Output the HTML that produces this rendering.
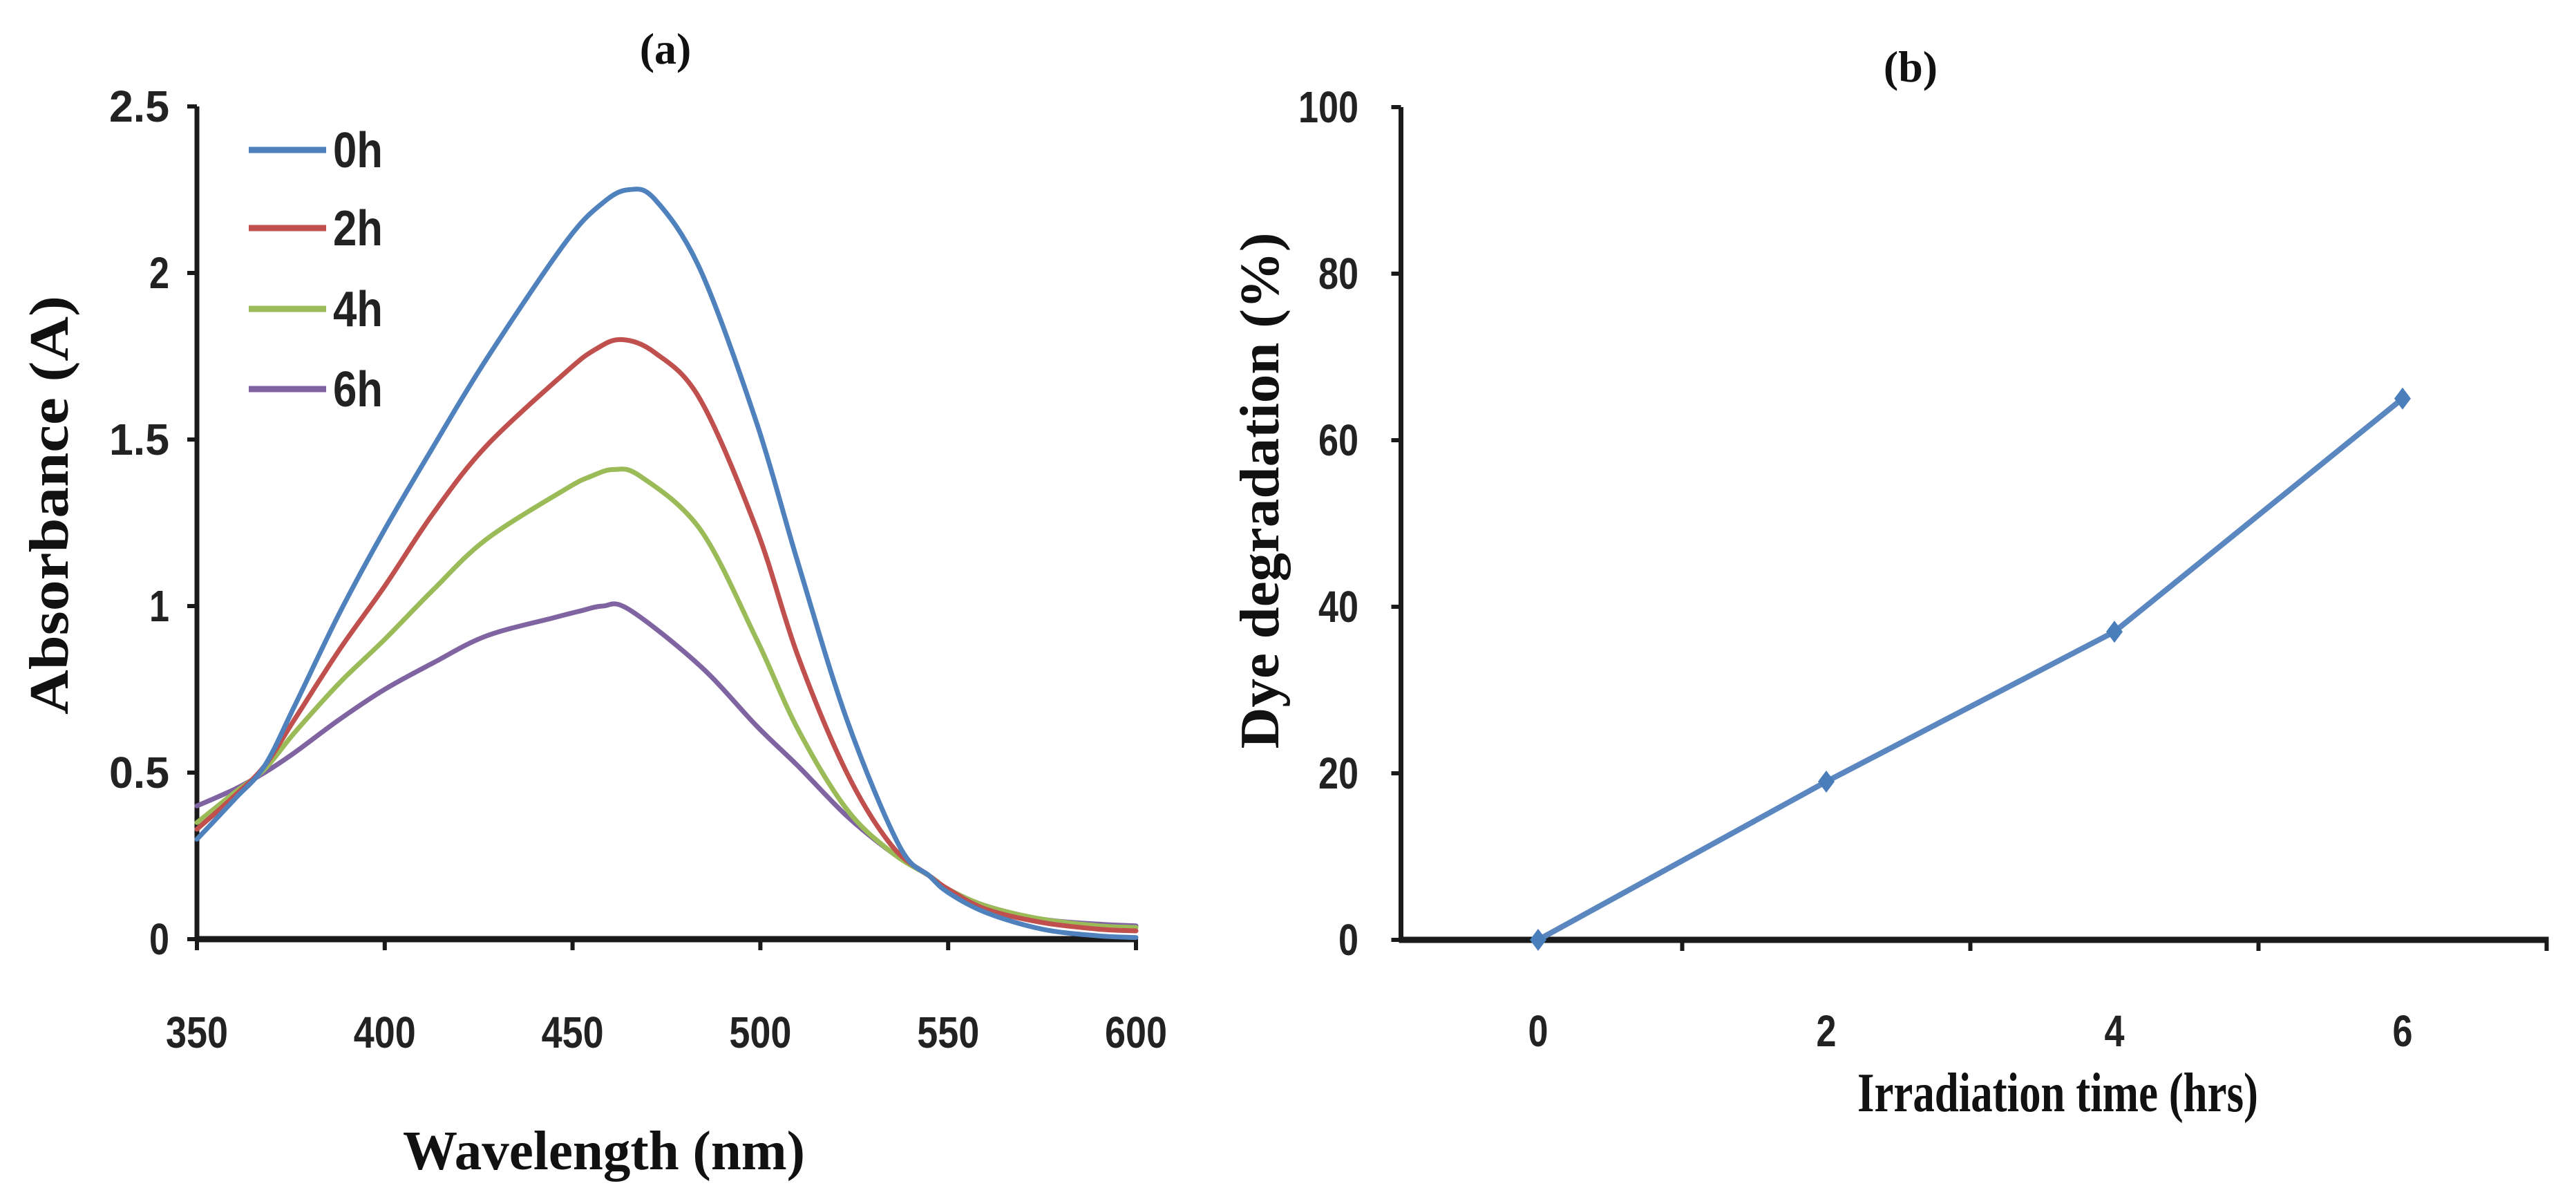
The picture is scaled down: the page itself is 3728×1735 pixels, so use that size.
<!DOCTYPE html>
<html><head><meta charset="utf-8"><style>
html,body{margin:0;padding:0;background:#fff;}
svg{display:block;}
</style></head><body>
<svg id="fig" width="3728" height="1735" viewBox="0 0 3728 1735" xmlns="http://www.w3.org/2000/svg">
<rect width="3728" height="1735" fill="#fff"/>
<g id="pa"></g>
<g id="pb"></g>
</svg>
<script>
// ---- Panel (a) data ----
const aXTicks = [350,400,450,500,550,600];
const aYTicks = [0,0.5,1,1.5,2,2.5];
const aYTickLabels = ["0","0.5","1","1.5","2","2.5"];
const seriesNames = ["0h","2h","4h","6h"];
const wl0 = [350,360,368,376,388,400,413,427,448,458,465,472,484,499,510,523,537,545,550,560,575,590,600];
const abs0 = [0.30,0.42,0.52,0.70,0.98,1.23,1.48,1.74,2.09,2.21,2.25,2.22,2.01,1.55,1.13,0.66,0.28,0.19,0.14,0.08,0.03,0.01,0.005];
const wl2 = [350,360,368,376,388,400,413,427,448,456,463,472,484,499,510,523,535,545,550,560,575,590,600];
const abs2 = [0.33,0.43,0.52,0.66,0.87,1.06,1.28,1.48,1.70,1.77,1.80,1.76,1.62,1.23,0.85,0.50,0.28,0.19,0.15,0.09,0.05,0.03,0.025];
const wl4 = [350,360,368,376,388,400,413,427,448,455,461,468,484,499,510,523,535,545,550,560,575,590,600];
const abs4 = [0.35,0.44,0.51,0.62,0.77,0.90,1.05,1.20,1.35,1.39,1.41,1.39,1.23,0.90,0.63,0.39,0.26,0.19,0.15,0.10,0.06,0.04,0.035];
const wl6 = [350,360,368,376,388,400,413,427,445,452,458,465,484,499,510,523,535,545,550,560,575,590,600];
const abs6 = [0.40,0.45,0.50,0.56,0.66,0.75,0.83,0.91,0.965,0.985,1.00,0.99,0.82,0.64,0.52,0.37,0.26,0.19,0.15,0.10,0.06,0.045,0.04];
// ---- Panel (b) data ----
const bTimes = [0,2,4,6];
const bDeg = [0,19,37,65];
const bXTickLabels = ["0","2","4","6"];
const bYTicks = [0,20,40,60,80,100];

const NS="http://www.w3.org/2000/svg";
function mk(parent,tag,attrs){const e=document.createElementNS(NS,tag);for(const k in attrs)e.setAttribute(k,attrs[k]);parent.appendChild(e);return e;}
function smooth(pts){let d="M"+pts[0][0].toFixed(1)+","+pts[0][1].toFixed(1);
 for(let i=0;i<pts.length-1;i++){const p0=pts[Math.max(0,i-1)],p1=pts[i],p2=pts[i+1],p3=pts[Math.min(pts.length-1,i+2)];
 const c1=[p1[0]+(p2[0]-p0[0])/6,p1[1]+(p2[1]-p0[1])/6],c2=[p2[0]-(p3[0]-p1[0])/6,p2[1]-(p3[1]-p1[1])/6];
 d+=" C"+c1[0].toFixed(1)+","+c1[1].toFixed(1)+" "+c2[0].toFixed(1)+","+c2[1].toFixed(1)+" "+p2[0].toFixed(1)+","+p2[1].toFixed(1);}
 return d;}

const narrow='"Liberation Sans Narrow","Liberation Sans",sans-serif';
const serif='"Liberation Serif",serif';
function lenFor(s){return s.length*29;} // condensed digits ~29px per char

// ---------- Panel A ----------
const A=document.getElementById('pa');
const ax=v=>285+(v-350)*(1644-285)/250;
const ay=v=>1359-v*482;
let e;
e=mk(A,'line',{x1:ax(350),y1:ay(2.5),x2:ax(350),y2:ay(0)+3,stroke:'#1a1a1a','stroke-width':7});

e=mk(A,'line',{x1:ax(350)-3,y1:ay(0),x2:ax(600)+3,y2:ay(0),stroke:'#1a1a1a','stroke-width':9});

aYTicks.forEach((t,i)=>{
 mk(A,'line',{x1:ax(350)-14,y1:ay(t),x2:ax(350),y2:ay(t),stroke:'#1a1a1a','stroke-width':6});
 const tx=mk(A,'text',{x:ax(350)-40,y:ay(t)+22,'text-anchor':'end','font-family':narrow,'font-weight':'bold','font-size':64,fill:'#222',textLength:lenFor(aYTickLabels[i]),lengthAdjust:'spacingAndGlyphs'});
 tx.textContent=aYTickLabels[i];
 
});
aXTicks.forEach(t=>{
 mk(A,'line',{x1:ax(t),y1:ay(0),x2:ax(t),y2:ay(0)+16,stroke:'#1a1a1a','stroke-width':6});
 const tx=mk(A,'text',{x:ax(t),y:1516,'text-anchor':'middle','font-family':narrow,'font-weight':'bold','font-size':64,fill:'#222',textLength:90,lengthAdjust:'spacingAndGlyphs'});
 tx.textContent=String(t);
 
});
const colors=['#4f81bd','#c0504d','#9bbb59','#8064a2'];
const wls=[wl0,wl2,wl4,wl6], abss=[abs0,abs2,abs4,abs6];
for(let s=3;s>=0;s--){
 const pts=wls[s].map((w,i)=>[ax(w),ay(abss[s][i])]);
 const p=mk(A,'path',{d:smooth(pts),fill:'none',stroke:colors[s],'stroke-width':7,'stroke-linejoin':'round','stroke-linecap':'round'});
 
}
const legY=[217,330,447,563];
seriesNames.forEach((n,i)=>{
 const g=mk(A,'g',{});
 
 mk(g,'line',{x1:360,y1:legY[i],x2:472,y2:legY[i],stroke:colors[i],'stroke-width':9});
 const t=mk(g,'text',{x:482,y:legY[i]+25,'font-family':narrow,'font-weight':'bold','font-size':72,fill:'#222',textLength:72,lengthAdjust:'spacingAndGlyphs'});
 t.textContent=n;
});
e=mk(A,'text',{x:963,y:92,'text-anchor':'middle','font-family':serif,'font-weight':'bold','font-size':64,fill:'#111'});
e.textContent='(a)';
e=mk(A,'text',{x:874,y:1692,'text-anchor':'middle','font-family':serif,'font-weight':'bold','font-size':80,fill:'#111',textLength:582,lengthAdjust:'spacingAndGlyphs'});
e.textContent='Wavelength (nm)';
e=mk(A,'text',{x:0,y:0,'text-anchor':'middle','font-family':serif,'font-weight':'bold','font-size':80,fill:'#111',textLength:606,lengthAdjust:'spacingAndGlyphs',transform:'translate(98,731) rotate(-90)'});
e.textContent='Absorbance (A)';

// ---------- Panel B ----------
const B=document.getElementById('pb');
const bx=v=>2226+v*(3692-2441)/6;
const by=v=>1360-v*(1360-155)/100;
e=mk(B,'line',{x1:bx(-1)+10,y1:by(100),x2:bx(-1)+10,y2:by(0)+3,stroke:'#1a1a1a','stroke-width':7});

e=mk(B,'line',{x1:bx(-1)+7,y1:by(0),x2:bx(7)+3,y2:by(0),stroke:'#1a1a1a','stroke-width':9});

bYTicks.forEach(t=>{
 mk(B,'line',{x1:bx(-1)-4,y1:by(t),x2:bx(-1)+10,y2:by(t),stroke:'#1a1a1a','stroke-width':6});
 const s=String(t);
 const tx=mk(B,'text',{x:1966,y:by(t)+22,'text-anchor':'end','font-family':narrow,'font-weight':'bold','font-size':64,fill:'#222',textLength:lenFor(s),lengthAdjust:'spacingAndGlyphs'});
 tx.textContent=s;
 
});
[1,3,5,7].forEach(t=>{
 mk(B,'line',{x1:bx(t),y1:by(0),x2:bx(t),y2:by(0)+16,stroke:'#1a1a1a','stroke-width':6});
});
bTimes.forEach((t,i)=>{
 const tx=mk(B,'text',{x:bx(t),y:1514,'text-anchor':'middle','font-family':narrow,'font-weight':'bold','font-size':64,fill:'#222',textLength:29,lengthAdjust:'spacingAndGlyphs'});
 tx.textContent=bXTickLabels[i];
 
});
e=mk(B,'polyline',{points:bTimes.map((t,i)=>bx(t)+','+by(bDeg[i])).join(' '),fill:'none',stroke:'#5b87c0','stroke-width':8,'stroke-linejoin':'round'});

bTimes.forEach((t,i)=>{
 const cx=bx(t),cy=by(bDeg[i]);
 const m=mk(B,'polygon',{points:`${cx},${cy-16} ${cx+12},${cy} ${cx},${cy+16} ${cx-12},${cy}`,fill:'#4a7ebb'});
 
});
e=mk(B,'text',{x:2765,y:118,'text-anchor':'middle','font-family':serif,'font-weight':'bold','font-size':64,fill:'#111'});
e.textContent='(b)';
e=mk(B,'text',{x:2978,y:1608,'text-anchor':'middle','font-family':serif,'font-weight':'bold','font-size':80,fill:'#111',textLength:580,lengthAdjust:'spacingAndGlyphs'});
e.textContent='Irradiation time (hrs)';
e=mk(B,'text',{x:0,y:0,'text-anchor':'middle','font-family':serif,'font-weight':'bold','font-size':80,fill:'#111',textLength:747,lengthAdjust:'spacingAndGlyphs',transform:'translate(1850,710) rotate(-90)'});
e.textContent='Dye degradation (%)';
</script>
</body></html>
